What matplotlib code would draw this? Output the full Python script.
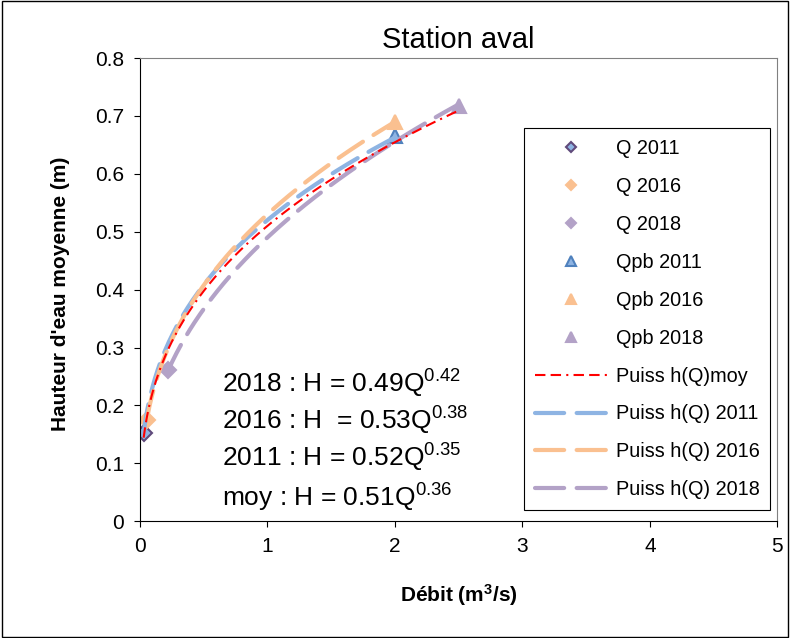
import matplotlib.pyplot as plt
import numpy as np

plt.rcParams['font.family'] = ['Liberation Sans', 'DejaVu Sans']
plt.rcParams['mathtext.fontset'] = 'custom'
plt.rcParams['mathtext.rm'] = 'Liberation Sans'
plt.rcParams['mathtext.it'] = 'Liberation Sans'
plt.rcParams['mathtext.bf'] = 'Liberation Sans:bold'

# points mesurés
q_x = {'2011': 0.03, '2016': 0.055, '2018': 0.22}
q_y = {'2011': 0.152, '2016': 0.175, '2018': 0.262}
qpb_x = {'2011': 2.0, '2016': 2.0, '2018': 2.5}
qpb_y = {'2011': 0.665, '2016': 0.69, '2018': 0.718}

# courbes de puissance h = a*Q^b
coef_a = {'moy': 0.51, '2011': 0.52, '2016': 0.53, '2018': 0.49}
coef_b = {'moy': 0.36, '2011': 0.35, '2016': 0.38, '2018': 0.42}
eq_labels = ['2018 : H = 0.49Q$^{0.42}$', '2016 : H  = 0.53Q$^{0.38}$',
             '2011 : H = 0.52Q$^{0.35}$', 'moy : H = 0.51Q$^{0.36}$']
eq_y = [0.223, 0.158, 0.094, 0.026]

fill = {'2011': '#8EB4E3', '2016': '#FAC090', '2018': '#B3A2C7'}
edge_d = {'2011': '#604A7B', '2016': '#FAC090', '2018': '#B3A2C7'}
edge_t = {'2011': '#4F81BD', '2016': '#FAC090', '2018': '#B3A2C7'}

fig = plt.figure(figsize=(7.9, 6.38), dpi=100)
ax = fig.add_axes([0.177, 0.183, 0.807, 0.726])

for yr in ['2011', '2016', '2018']:
    ax.plot(q_x[yr], q_y[yr], 'D', ms=8, mfc=fill[yr], mec=edge_d[yr], mew=1.5,
            label='Q ' + yr, zorder=2)
for yr in ['2011', '2016', '2018']:
    ax.plot(qpb_x[yr], qpb_y[yr], '^', ms=10, mfc=fill[yr], mec=edge_t[yr], mew=1.5,
            label='Qpb ' + yr, zorder=2)

xm = np.linspace(q_x['2011'], qpb_x['2018'], 200)
ax.plot(xm, coef_a['moy'] * xm ** coef_b['moy'], color='red', lw=1.5,
        linestyle=(0, (5, 2.5, 5, 2.5, 1, 2.5)), label='Puiss h(Q)moy', zorder=4)
for yr in ['2011', '2016', '2018']:
    xx = np.linspace(q_x[yr], qpb_x[yr], 200)
    ax.plot(xx, coef_a[yr] * xx ** coef_b[yr], color=fill[yr], lw=3,
            linestyle=(0, (7, 3)), dash_capstyle='round',
            label='Puiss h(Q) ' + yr, zorder=3)

ax.set_xlim(0, 5)
ax.set_ylim(0, 0.8)
ax.set_xticks(range(6))
ax.set_yticks(np.arange(0, 0.81, 0.1))
ax.set_yticklabels(['0'] + ['%.1f' % v for v in np.arange(0.1, 0.81, 0.1)])
ax.tick_params(direction='out', labelsize=15, length=4.5, pad=7)
for s in ['top', 'right']:
    ax.spines[s].set_color('#808080')
    ax.spines[s].set_linewidth(0.8)
ax.set_title('Station aval', fontsize=21, pad=7)
ax.set_xlabel('Débit (m$\\mathbf{^3}$/s)', fontsize=15, fontweight='bold')
ax.set_ylabel("Hauteur d'eau moyenne (m)", fontsize=15, fontweight='bold')
ax.xaxis.set_label_coords(0.5, -0.132)
ax.yaxis.set_label_coords(-0.11, 0.49)

for t, yv in zip(eq_labels, eq_y):
    ax.text(0.644, yv, t, fontsize=19, va='baseline')

leg = ax.legend(loc='lower right', bbox_to_anchor=(0.989, 0.024), fontsize=14.3,
                handlelength=3.6, handletextpad=0.45, labelspacing=0.95,
                markerscale=0.65, fancybox=False, edgecolor='black',
                framealpha=1, borderpad=0.55, borderaxespad=0)
leg.get_frame().set_linewidth(0.8)

fig.patches.append(plt.Rectangle((0.002, 0.002), 0.996, 0.996, transform=fig.transFigure,
                                 fill=False, edgecolor='black', lw=1))
fig.savefig('out.png')
